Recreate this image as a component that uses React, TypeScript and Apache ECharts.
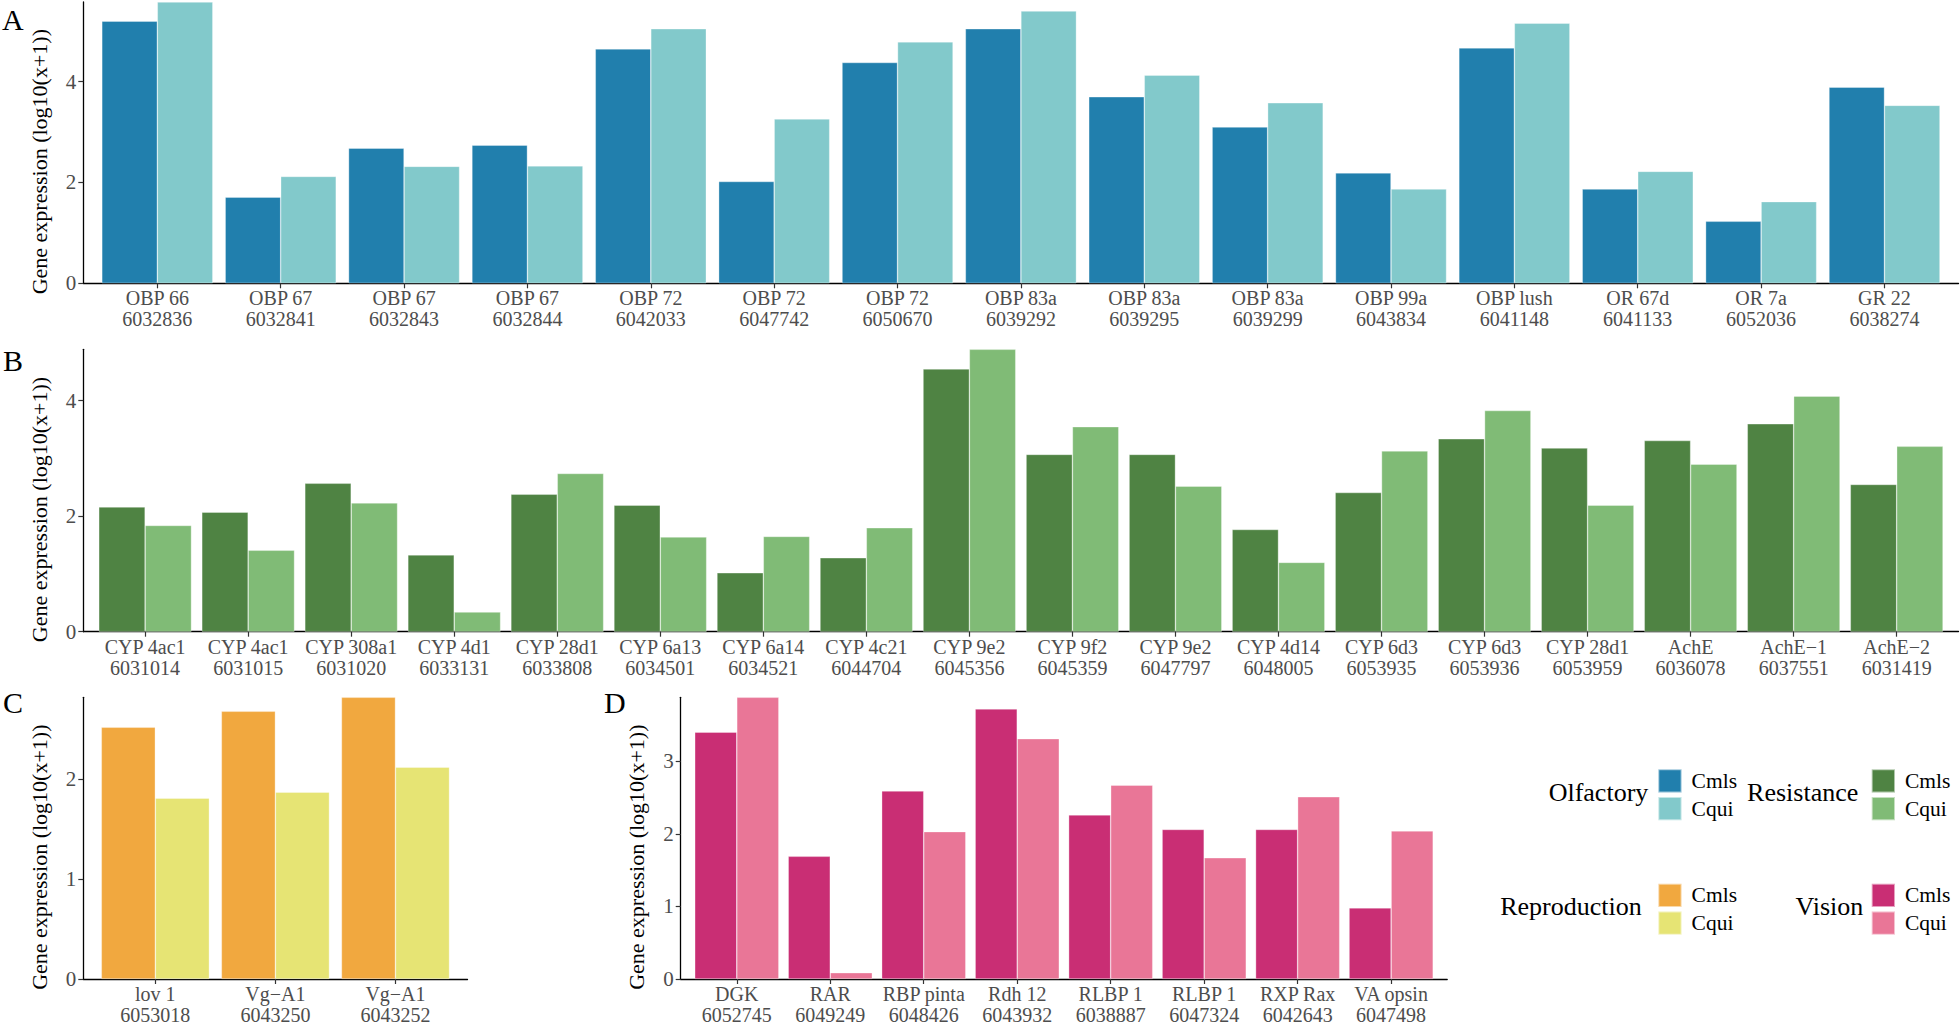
import React, { useEffect, useRef } from 'react';
import * as echarts from 'echarts';

const FONT = '"Liberation Serif", "Times New Roman", Times, serif';

// ---------- Data ----------
const olfGenes = ['OBP 66', 'OBP 67', 'OBP 67', 'OBP 67', 'OBP 72', 'OBP 72', 'OBP 72', 'OBP 83a', 'OBP 83a', 'OBP 83a', 'OBP 99a', 'OBP lush', 'OR 67d', 'OR 7a', 'GR 22'];
const olfIds = ['6032836', '6032841', '6032843', '6032844', '6042033', '6047742', '6050670', '6039292', '6039295', '6039299', '6043834', '6041148', '6041133', '6052036', '6038274'];
const olfCmls = [5.20, 1.71, 2.68, 2.74, 4.65, 2.02, 4.38, 5.05, 3.70, 3.10, 2.19, 4.67, 1.87, 1.23, 3.89];
const olfCqui = [5.58, 2.12, 2.32, 2.33, 5.05, 3.26, 4.79, 5.40, 4.13, 3.58, 1.87, 5.16, 2.22, 1.62, 3.53];

const resGenes = ['CYP 4ac1', 'CYP 4ac1', 'CYP 308a1', 'CYP 4d1', 'CYP 28d1', 'CYP 6a13', 'CYP 6a14', 'CYP 4c21', 'CYP 9e2', 'CYP 9f2', 'CYP 9e2', 'CYP 4d14', 'CYP 6d3', 'CYP 6d3', 'CYP 28d1', 'AchE', 'AchE\u22121', 'AchE\u22122'];
const resIds = ['6031014', '6031015', '6031020', '6033131', '6033808', '6034501', '6034521', '6044704', '6045356', '6045359', '6047797', '6048005', '6053935', '6053936', '6053959', '6036078', '6037551', '6031419'];
const resCmls = [2.16, 2.07, 2.57, 1.33, 2.38, 2.19, 1.02, 1.28, 4.55, 3.07, 3.07, 1.77, 2.41, 3.34, 3.18, 3.31, 3.60, 2.55];
const resCqui = [1.84, 1.41, 2.23, 0.34, 2.74, 1.64, 1.65, 1.80, 4.89, 3.55, 2.52, 1.20, 3.13, 3.83, 2.19, 2.90, 4.08, 3.21];

const repGenes = ['lov 1', 'Vg\u2212A1', 'Vg\u2212A1'];
const repIds = ['6053018', '6043250', '6043252'];
const repCmls = [2.52, 2.68, 2.82];
const repCqui = [1.81, 1.87, 2.12];

const visGenes = ['DGK', 'RAR', 'RBP pinta', 'Rdh 12', 'RLBP 1', 'RLBP 1', 'RXP Rax', 'VA opsin'];
const visIds = ['6052745', '6049249', '6048426', '6043932', '6038887', '6047324', '6042643', '6047498'];
const visCmls = [3.40, 1.69, 2.59, 3.72, 2.26, 2.06, 2.06, 0.98];
const visCqui = [3.88, 0.087, 2.03, 3.31, 2.67, 1.67, 2.51, 2.04];

const yTicksA = [0, 2, 4];
const yTicksB = [0, 2, 4];
const yTicksC = [0, 1, 2];
const yTicksD = [0, 1, 2, 3];

const groups = ['Olfactory', 'Resistance', 'Reproduction', 'Vision'];
const species = ['Cmls', 'Cqui'];
const panelLetters = ['A', 'B', 'C', 'D'];
const yTitle = 'Gene expression (log10(x+1))';

// ---------- Styling ----------
const colors: Record<string, [string, string]> = {
  Olfactory: ['#217FAD', '#82C9CB'],
  Resistance: ['#4F8343', '#80BB76'],
  Reproduction: ['#F1A83F', '#E6E474'],
  Vision: ['#C92E74', '#E97697'],
};

const grids = [
  { left: 83.3, top: 2, width: 1875.2, height: 281.3 },
  { left: 83.3, top: 349.3, width: 1875.2, height: 282.4 },
  { left: 83.3, top: 697.3, width: 384.2, height: 281.7 },
  { left: 680.7, top: 697.3, width: 766.5, height: 281.7 },
];

const panels = [
  { genes: olfGenes, ids: olfIds, cmls: olfCmls, cqui: olfCqui, ticks: yTicksA },
  { genes: resGenes, ids: resIds, cmls: resCmls, cqui: resCqui, ticks: yTicksB },
  { genes: repGenes, ids: repIds, cmls: repCmls, cqui: repCqui, ticks: yTicksC },
  { genes: visGenes, ids: visIds, cmls: visCmls, cqui: visCqui, ticks: yTicksD },
];

const letterPos = [
  [2, 19.5],
  [3, 360],
  [3, 702.5],
  [604, 702.5],
];

const legendPos = [
  { left: 1657.3, top: 768.3, titleX: 1648.3, titleY: 792.5 },
  { left: 1870.7, top: 768.3, titleX: 1858.3, titleY: 792.5 },
  { left: 1657.3, top: 882.7, titleX: 1641.7, titleY: 906.5 },
  { left: 1870.7, top: 882.7, titleX: 1863.3, titleY: 906.5 },
];

export default function App() {
  const ref = useRef<HTMLDivElement>(null);
  useEffect(() => {
    document.body.style.margin = '0';
    const chart = echarts.init(ref.current!, null, { renderer: 'svg' });

    const xAxes: any[] = [];
    const yAxes: any[] = [];
    const series: any[] = [];
    const legends: any[] = [];
    const graphics: any[] = [];

    panels.forEach((p, gi) => {
      const n = p.genes.length;
      const labels = p.genes.map((g, i) => g + '\n' + p.ids[i]);
      const idx = p.genes.map((_, i) => i);
      const ymax = Math.max(...p.cmls, ...p.cqui);
      xAxes.push({
        type: 'value',
        gridIndex: gi,
        min: -0.6,
        max: n - 0.4,
        axisLine: { show: true, onZero: false, lineStyle: { color: '#000', width: 1.3 } },
        axisTick: { show: true, length: 5, customValues: idx, lineStyle: { color: '#333', width: 1.2 } },
        axisLabel: {
          customValues: idx,
          formatter: (v: number) => labels[Math.round(v)],
          fontSize: 20,
          lineHeight: 21,
          color: '#4d4d4d',
          fontFamily: FONT,
          margin: 4.5,
        },
        splitLine: { show: false },
      });
      yAxes.push({
        type: 'value',
        gridIndex: gi,
        min: 0,
        max: ymax,
        name: yTitle,
        nameLocation: 'middle',
        nameGap: 33,
        nameTextStyle: { fontSize: 22, fontFamily: FONT, color: '#000', padding: [0, 38, 0, 0] },
        axisLine: { show: true, onZero: false, lineStyle: { color: '#000', width: 1.3 } },
        axisTick: { show: true, length: 5, customValues: p.ticks, lineStyle: { color: '#333', width: 1.2 } },
        axisLabel: { customValues: p.ticks, fontSize: 21, color: '#4d4d4d', fontFamily: FONT, margin: 7 },
        splitLine: { show: false },
      });
      const g = groups[gi];
      [p.cmls, p.cqui].forEach((vals, si) => {
        series.push({
          type: 'bar',
          name: g + ' ' + species[si],
          xAxisIndex: gi,
          yAxisIndex: gi,
          data: vals.map((v, i) => [i, v]),
          barCategoryGap: '10%',
          barGap: '0%',
          itemStyle: { color: colors[g][si], borderColor: 'rgba(255,255,255,0.55)', borderWidth: 0.6 },
          emphasis: { disabled: true },
        });
      });
      const lp = legendPos[gi];
      legends.push({
        data: [g + ' Cmls', g + ' Cqui'],
        left: lp.left,
        top: lp.top,
        orient: 'vertical',
        icon: 'rect',
        itemWidth: 23.3,
        itemHeight: 23.3,
        itemGap: 2.4,
        padding: 0,
        selectedMode: false,
        formatter: (name: string) => name.split(' ')[1],
        textStyle: { fontSize: 21.5, fontFamily: FONT, color: '#000', padding: [0, 0, 0, 5] },
      });
      graphics.push({
        type: 'text',
        x: lp.titleX,
        y: lp.titleY,
        style: { text: g, fontSize: 26, fontFamily: FONT, fill: '#000', textAlign: 'right', textVerticalAlign: 'middle' },
      });
      graphics.push({
        type: 'text',
        x: letterPos[gi][0],
        y: letterPos[gi][1],
        style: { text: panelLetters[gi], fontSize: 30, fontFamily: FONT, fill: '#000', textAlign: 'left', textVerticalAlign: 'middle' },
      });
    });

    chart.setOption({
      animation: false,
      backgroundColor: '#fff',
      grid: grids.map((g) => ({ ...g, containLabel: false, outerBoundsMode: 'none' })),
      xAxis: xAxes,
      yAxis: yAxes,
      series,
      legend: legends,
      graphic: graphics,
      tooltip: { show: false },
    });
    return () => chart.dispose();
  }, []);
  return <div ref={ref} style={{ width: 1960, height: 1026 }} />;
}
